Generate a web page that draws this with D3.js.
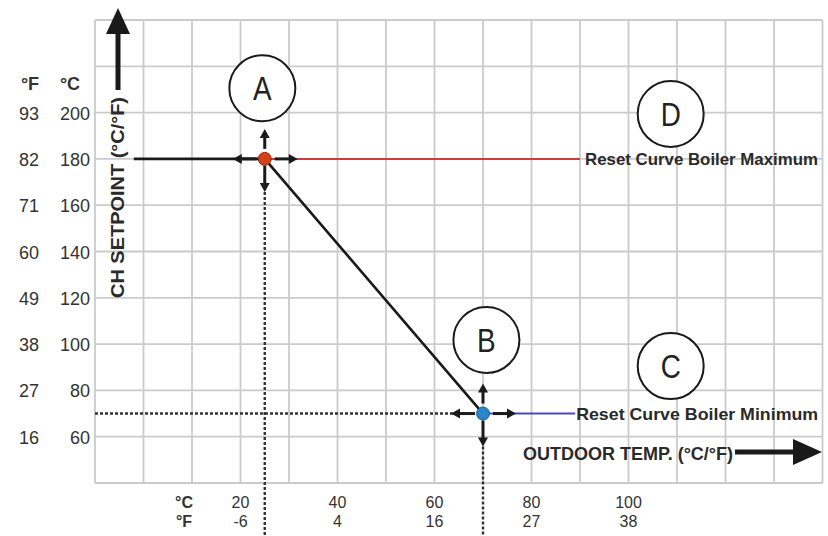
<!DOCTYPE html>
<html>
<head>
<meta charset="utf-8">
<script src="https://cdn.jsdelivr.net/npm/d3@7"></script>
<style>
    body { margin: 0; background: #fff; }
    svg { display: block; font-family: "Liberation Sans", Arial, sans-serif; }
</style>
</head>
<body>
<div id="chart"></div>
<script>
// Tick labels (Celsius with the Fahrenheit values printed beside them)
const yTicksC = [200, 180, 160, 140, 120, 100, 80, 60];
const yTicksF = [93, 82, 71, 60, 49, 38, 27, 16];
const xTicksC = [20, 40, 60, 80, 100];
const xTicksF = [-6, 4, 16, 27, 38];

// Reset curve: outdoor temp vs CH setpoint
const curveOutdoor = [-2, 25, 70];
const curveSetpoint = [180, 180, 70];
const maxLineOutdoor = [25, 90];   // boiler maximum (red)
const maxLineSetpoint = [180, 180];
const minLineOutdoor = [70, 89];   // boiler minimum (blue)
const minLineSetpoint = [70, 70];

// Adjustable points A and B
const pointNames = ["A", "B"];
const pointOutdoor = [25, 70];
const pointSetpoint = [180, 70];

// Circled callouts
const calloutNames = ["A", "B", "C", "D"];
const calloutOutdoor = [24.5, 70.7, 108.7, 108.7];
const calloutSetpoint = [210.5, 101.8, 90.5, 199.4];

const width = 828;
const height = 536;

const svg = d3.select("#chart")
    .append("svg")
    .attr("width", width)
    .attr("height", height);

const x = d3.scaleLinear().domain([-10, 140]).range([95, 822.5]);
const y = d3.scaleLinear().domain([40, 240]).range([483, 20]);

// Grid
const grid = svg.append("g");
grid.selectAll("line.v")
    .data(d3.range(-10, 141, 10))
    .enter()
    .append("line")
    .attr("x1", (d) => x(d))
    .attr("x2", (d) => x(d))
    .attr("y1", y(240))
    .attr("y2", y(40))
    .attr("stroke", "#cbcbcb")
    .attr("stroke-width", 1.8);
grid.selectAll("line.h")
    .data(d3.range(40, 241, 20))
    .enter()
    .append("line")
    .attr("x1", x(-10))
    .attr("x2", x(140))
    .attr("y1", (d) => y(d))
    .attr("y2", (d) => y(d))
    .attr("stroke", "#cbcbcb")
    .attr("stroke-width", 1.8);

// Arrow helper: shaft + filled triangle head
function arrow(g, x1, y1, x2, y2, shaft, headL, headW) {
    const dx = x2 - x1, dy = y2 - y1;
    const len = Math.hypot(dx, dy);
    const ux = dx / len, uy = dy / len;
    const bx = x2 - ux * headL, by = y2 - uy * headL;
    g.append("line")
        .attr("x1", x1).attr("y1", y1)
        .attr("x2", bx + ux).attr("y2", by + uy)
        .attr("stroke", "#1a1a1a")
        .attr("stroke-width", shaft);
    const px = -uy * headW / 2, py = ux * headW / 2;
    g.append("path")
        .attr("d", `M${x2},${y2}L${bx + px},${by + py}L${bx - px},${by - py}Z`)
        .attr("fill", "#1a1a1a");
}

// Dotted guide lines through A and B
const dots = svg.append("g")
    .attr("stroke", "#333")
    .attr("stroke-width", 2.4)
    .attr("stroke-dasharray", "3,2");
dots.append("line")
    .attr("x1", x(pointOutdoor[0])).attr("x2", x(pointOutdoor[0]))
    .attr("y1", y(pointSetpoint[0]) + 33).attr("y2", height);
dots.append("line")
    .attr("x1", x(pointOutdoor[1])).attr("x2", x(pointOutdoor[1]))
    .attr("y1", y(pointSetpoint[1]) + 33).attr("y2", height);
dots.append("line")
    .attr("x1", x(-10)).attr("x2", x(pointOutdoor[1]) - 30)
    .attr("y1", y(pointSetpoint[1])).attr("y2", y(pointSetpoint[1]));

// Boiler max / min lines
const line = d3.line()
    .x((d) => x(d[0]))
    .y((d) => y(d[1]));
svg.append("path")
    .attr("d", line(d3.zip(maxLineOutdoor, maxLineSetpoint)))
    .attr("stroke", "#d23b3b")
    .attr("stroke-width", 2)
    .attr("fill", "none");
svg.append("path")
    .attr("d", line(d3.zip(minLineOutdoor, minLineSetpoint)))
    .attr("stroke", "#4a4ab8")
    .attr("stroke-width", 2)
    .attr("fill", "none");

// Reset curve
svg.append("path")
    .attr("d", line(d3.zip(curveOutdoor, curveSetpoint)))
    .attr("stroke", "#1a1a1a")
    .attr("stroke-width", 2.6)
    .attr("fill", "none");

// Small adjust arrows around each point
const arrows = svg.append("g");
pointNames.forEach((name, i) => {
    const px = x(pointOutdoor[i]);
    const py = y(pointSetpoint[i]);
    arrow(arrows, px - 8, py, px - 32, py, 3, 9, 10);
    arrow(arrows, px + 10, py, px + 33, py, 3, 9, 10);
    arrow(arrows, px, py - 10, px, py - 30, 3, 9, 10);
    arrow(arrows, px, py + 7, px, py + 33, 3, 9, 10);
});

// Points
svg.selectAll("circle.pt")
    .data(pointNames)
    .enter()
    .append("circle")
    .attr("cx", (d, i) => x(pointOutdoor[i]))
    .attr("cy", (d, i) => y(pointSetpoint[i]))
    .attr("r", 6.5)
    .attr("fill", (d) => (d === "A" ? "#d8401c" : "#2a86c8"))
    .attr("stroke", (d) => (d === "A" ? "#8a2a10" : "#1d5f90"))
    .attr("stroke-width", 1);

// Callout circles
const callouts = svg.selectAll("g.callout")
    .data(calloutNames)
    .enter()
    .append("g")
    .attr("transform", (d, i) => `translate(${x(calloutOutdoor[i])},${y(calloutSetpoint[i])})`);
callouts.append("circle")
    .attr("r", 33)
    .attr("fill", "#fff")
    .attr("stroke", "#1a1a1a")
    .attr("stroke-width", 2);
callouts.append("text")
    .attr("transform", "translate(0, 12) scale(0.82, 1)")
    .attr("text-anchor", "middle")
    .style("font-size", "34px")
    .attr("fill", "#222")
    .text((d) => d);

// Curve labels
svg.append("text")
    .attr("x", x(maxLineOutdoor[1]) + 5)
    .attr("y", y(180) + 6)
    .attr("textLength", 233)
    .attr("lengthAdjust", "spacingAndGlyphs")
    .style("font-size", "17px")
    .style("font-weight", "bold")
    .attr("fill", "#2a2a2a")
    .text("Reset Curve Boiler Maximum");
svg.append("text")
    .attr("x", x(minLineOutdoor[1]) + 1)
    .attr("y", y(70) + 6)
    .attr("textLength", 242)
    .attr("lengthAdjust", "spacingAndGlyphs")
    .style("font-size", "17px")
    .style("font-weight", "bold")
    .attr("fill", "#2a2a2a")
    .text("Reset Curve Boiler Minimum");

// Y tick labels
const yLabels = svg.append("g").style("font-size", "18px").attr("fill", "#333");
yLabels.selectAll("text.c")
    .data(yTicksC)
    .enter()
    .append("text")
    .attr("x", 90)
    .attr("y", (d) => y(d) + 7)
    .attr("text-anchor", "end")
    .text((d) => d);
yLabels.selectAll("text.f")
    .data(yTicksF)
    .enter()
    .append("text")
    .attr("x", 29)
    .attr("y", (d, i) => y(yTicksC[i]) + 7)
    .attr("text-anchor", "middle")
    .text((d) => d);
yLabels.append("text").attr("x", 30).attr("y", 90).attr("text-anchor", "middle")
    .style("font-weight", "bold").text("°F");
yLabels.append("text").attr("x", 70).attr("y", 90).attr("text-anchor", "middle")
    .style("font-weight", "bold").text("°C");

// X tick labels (two tight rows)
const xLabels = svg.append("g").style("font-size", "16px").attr("fill", "#333");
xLabels.selectAll("text.c")
    .data(xTicksC)
    .enter()
    .append("text")
    .attr("x", (d) => x(d))
    .attr("y", 508)
    .attr("text-anchor", "middle")
    .text((d) => d);
xLabels.selectAll("text.f")
    .data(xTicksF)
    .enter()
    .append("text")
    .attr("x", (d, i) => x(xTicksC[i]))
    .attr("y", 527)
    .attr("text-anchor", "middle")
    .text((d) => d);
xLabels.append("text").attr("x", 184).attr("y", 508).attr("text-anchor", "middle")
    .style("font-weight", "bold").text("°C");
xLabels.append("text").attr("x", 184).attr("y", 527).attr("text-anchor", "middle")
    .style("font-weight", "bold").text("°F");

// Axis titles with big arrows
svg.append("text")
    .attr("transform", "translate(124, 298) rotate(-90)")
    .attr("textLength", 201)
    .attr("lengthAdjust", "spacingAndGlyphs")
    .style("font-size", "18px")
    .style("font-weight", "bold")
    .attr("fill", "#2a2a2a")
    .text("CH SETPOINT (°C/°F)");
arrow(svg, 118, 90, 118, 8, 5, 26, 24);

svg.append("text")
    .attr("x", 523)
    .attr("y", 460)
    .attr("textLength", 210)
    .attr("lengthAdjust", "spacingAndGlyphs")
    .style("font-size", "18px")
    .style("font-weight", "bold")
    .attr("fill", "#2a2a2a")
    .text("OUTDOOR TEMP. (°C/°F)");
arrow(svg, 735, 452, 822, 452, 5, 29, 26);
</script>
</body>
</html>
